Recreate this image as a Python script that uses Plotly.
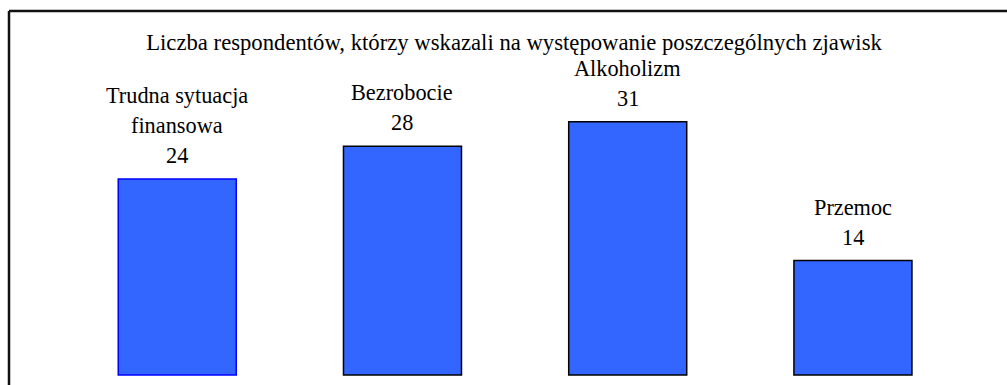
import plotly.graph_objects as go

categories = ["Trudna sytuacja<br>finansowa", "Bezrobocie", "Alkoholizm", "Przemoc"]
values = [24, 28, 31, 14]
outline_colors = ["#0000FF", "#000000", "#000000", "#000000"]

title_text = "Liczba respondentów, którzy wskazali na występowanie poszczególnych zjawisk"

FONT = "Liberation Serif"
FONT_SIZE = 22.3
W, H = 1007, 385
LINE_GAP = 30  # pixels between stacked label lines

x_pos = list(range(len(categories)))

fig = go.Figure()
fig.add_trace(go.Bar(
    x=x_pos,
    y=values,
    width=0.524,
    marker=dict(color="#3366FF", line=dict(color=outline_colors, width=1.5)),
    hoverinfo="skip",
))

# count directly above each bar, category name lines stacked above it
for xi, cat, val in zip(x_pos, categories, values):
    lines = cat.split("<br>") + [str(val)]
    for k, line in enumerate(reversed(lines)):
        fig.add_annotation(
            x=xi, y=val, xref="x", yref="y",
            text=line,
            showarrow=False, yanchor="bottom", xanchor="center",
            yshift=9 + k * LINE_GAP,
            font=dict(family=FONT, size=FONT_SIZE, color="#000000"),
        )

# frame: top edge and left edge
fig.add_shape(type="line", xref="paper", yref="paper", x0=0, x1=1, y0=1, y1=1,
              line=dict(color="#111111", width=2.5))
fig.add_shape(type="line", xref="paper", yref="paper", x0=0, x1=0, y0=0, y1=1,
              line=dict(color="#111111", width=2.5))

fig.update_layout(
    width=W, height=H,
    margin=dict(l=9, r=0, t=11, b=0),
    paper_bgcolor="white", plot_bgcolor="white",
    showlegend=False,
    title=dict(text=title_text, x=514 / W, xanchor="center", y=1 - 42 / H, yanchor="middle",
               yref="container", xref="container",
               font=dict(family=FONT, size=22.7, color="#000000")),
    xaxis=dict(range=[-0.747, 3.684], visible=False, fixedrange=True),
    yaxis=dict(range=[-1.224, 44.55], visible=False, fixedrange=True),
)

fig.write_html("out.html", config={"displayModeBar": False})
